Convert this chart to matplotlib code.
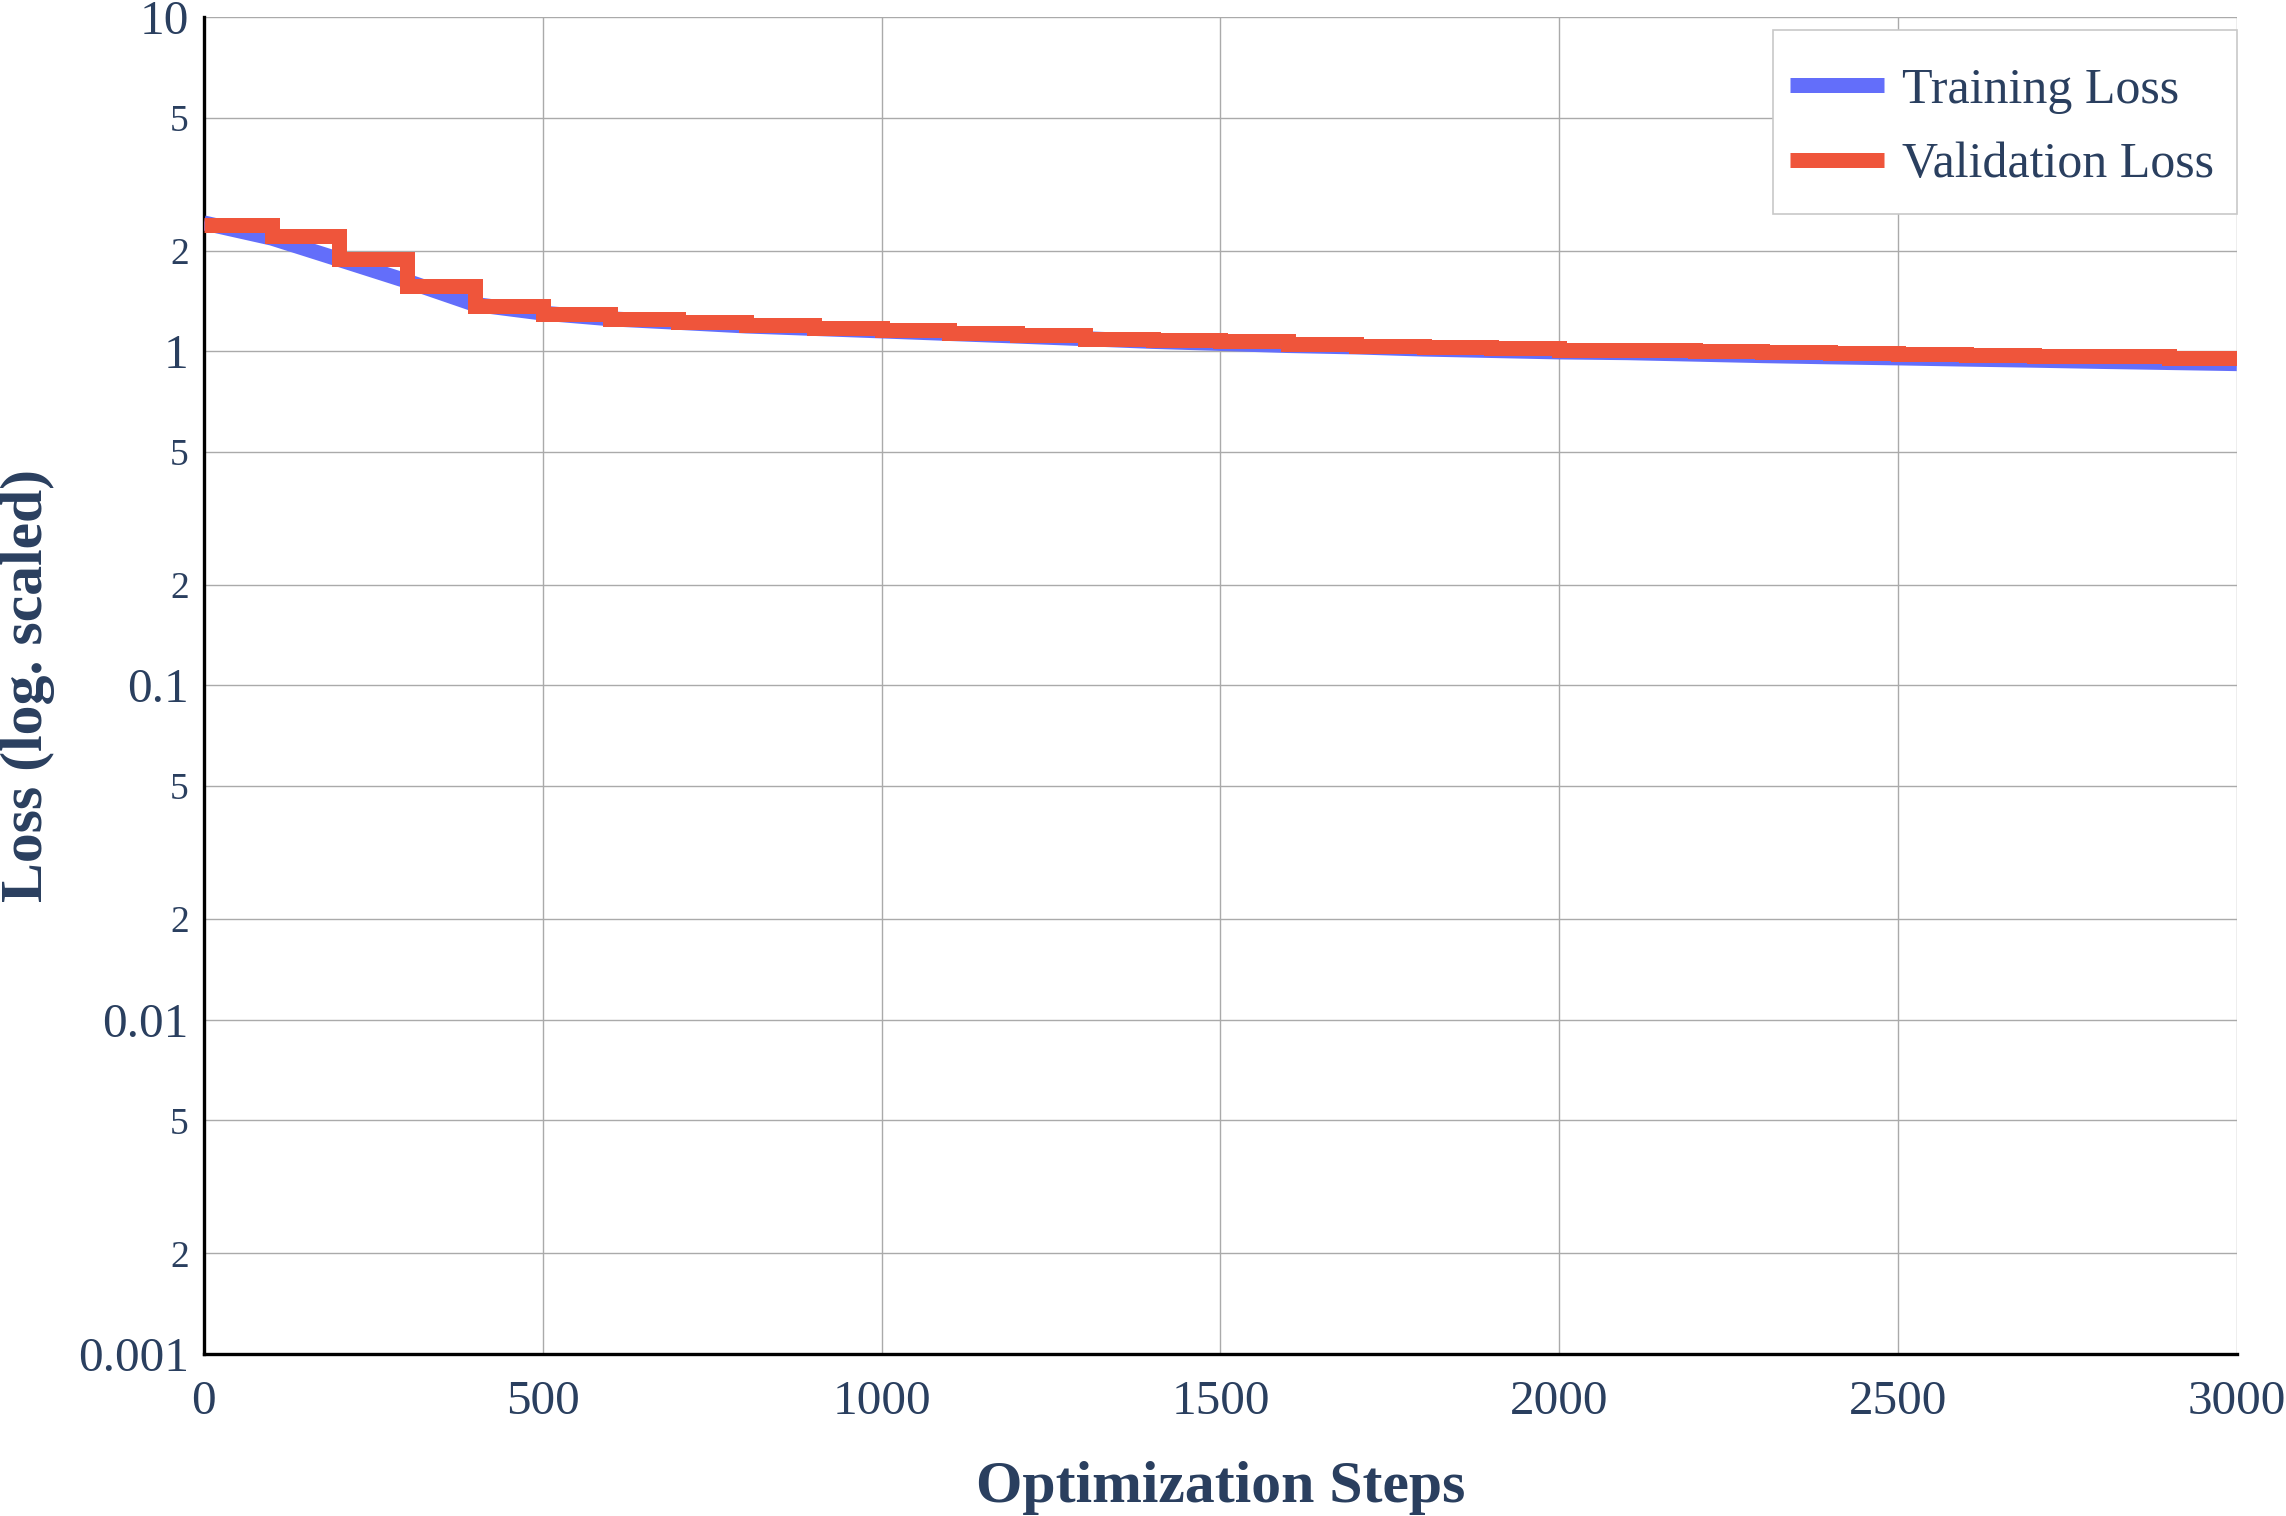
import matplotlib
matplotlib.use("Agg")
import matplotlib.pyplot as plt
from matplotlib.patches import Rectangle
import numpy as np

# data
train_steps = [0, 100, 200, 300, 400, 500, 600, 700, 800, 900, 1000,
               1100, 1200, 1300, 1400, 1500, 1600, 1700, 1800, 1900, 2000,
               2100, 2200, 2300, 2400, 2500, 2600, 2700, 2800, 2900, 3000]
train_loss = [2.42, 2.18, 1.88, 1.62, 1.38, 1.30, 1.25, 1.22, 1.19, 1.17, 1.15,
              1.13, 1.11, 1.09, 1.07, 1.055, 1.04, 1.03, 1.015, 1.005, 0.995,
              0.99, 0.98, 0.97, 0.962, 0.955, 0.947, 0.94, 0.932, 0.925, 0.918]

val_steps = train_steps
val_loss = [2.39, 2.21, 1.89, 1.57, 1.37, 1.29, 1.25, 1.22, 1.20, 1.17, 1.16,
            1.13, 1.12, 1.09, 1.08, 1.07, 1.05, 1.04, 1.03, 1.025, 1.01,
            1.005, 1.0, 0.995, 0.985, 0.98, 0.975, 0.97, 0.965, 0.955, 0.955]

y_major = [0.001, 0.01, 0.1, 1, 10]
y_major_labels = ["0.001", "0.01", "0.1", "1", "10"]
y_minor = [0.002, 0.005, 0.02, 0.05, 0.2, 0.5, 2, 5]
y_minor_labels = ["2", "5", "2", "5", "2", "5", "2", "5"]
x_ticks = [0, 500, 1000, 1500, 2000, 2500, 3000]

txt = "#2a3f5f"
W, H = 2286, 1516
plt.rcParams["font.family"] = ["Liberation Serif", "DejaVu Serif"]

fig = plt.figure(figsize=(W / 100, H / 100), dpi=100)
ax = fig.add_axes([0.0892, 0.1069, 0.8893, 0.8819])

ax.plot(train_steps, train_loss, color="#636EFA", lw=10.8,
        solid_capstyle="butt", solid_joinstyle="miter", label="Training Loss", zorder=3)
ax.plot(val_steps, val_loss, color="#EF553B", lw=10.8, drawstyle="steps-post",
        solid_capstyle="butt", solid_joinstyle="miter", label="Validation Loss", zorder=4)

ax.set_yscale("log")
ax.set_ylim(0.001, 10)
ax.set_xlim(0, 3000)

ax.set_yticks(y_major)
ax.set_yticklabels(y_major_labels, fontsize=35.5, color=txt)
ax.set_yticks(y_minor, minor=True)
ax.set_yticklabels(y_minor_labels, minor=True, fontsize=27, color=txt)
ax.set_xticks(x_ticks)
ax.set_xticklabels([str(t) for t in x_ticks], fontsize=35.5, color=txt)

ax.tick_params(axis="both", which="both", length=0)
ax.tick_params(axis="y", which="both", pad=11)
ax.tick_params(axis="x", pad=19)

ax.grid(True, which="both", color="#aaaaaa", lw=1)
ax.set_axisbelow(True)

for s in ["top", "right"]:
    ax.spines[s].set_visible(False)
for s in ["left", "bottom"]:
    ax.spines[s].set_color("black")
    ax.spines[s].set_linewidth(2.4)

ax.set_xlabel("Optimization Steps", fontsize=43, fontweight="bold", color=txt, va="center")
ax.xaxis.set_label_coords(0.5, -0.1003)
ax.set_ylabel("Loss (log. scaled)", fontsize=43, fontweight="bold", color=txt, va="center")
ax.yaxis.set_label_coords(-0.0866, 0.5)

# legend box drawn by hand, legend itself without frame
box = Rectangle((1773 / W, 1 - 214 / H), (2237 - 1773) / W, (214 - 30) / H,
                transform=fig.transFigure, facecolor="white", edgecolor="#c8c8c8",
                lw=1.2, zorder=5, clip_on=False)
ax.add_patch(box)

leg = ax.legend(loc="upper left", bbox_to_anchor=(1790 / W, 1 - 67 / H),
                bbox_transform=fig.transFigure, borderaxespad=0, borderpad=0,
                fontsize=36, handlelength=1.88, handletextpad=0.35,
                labelspacing=0.57, frameon=False, labelcolor=txt)
leg.set_zorder(6)

fig.savefig("out.png", dpi=100)
